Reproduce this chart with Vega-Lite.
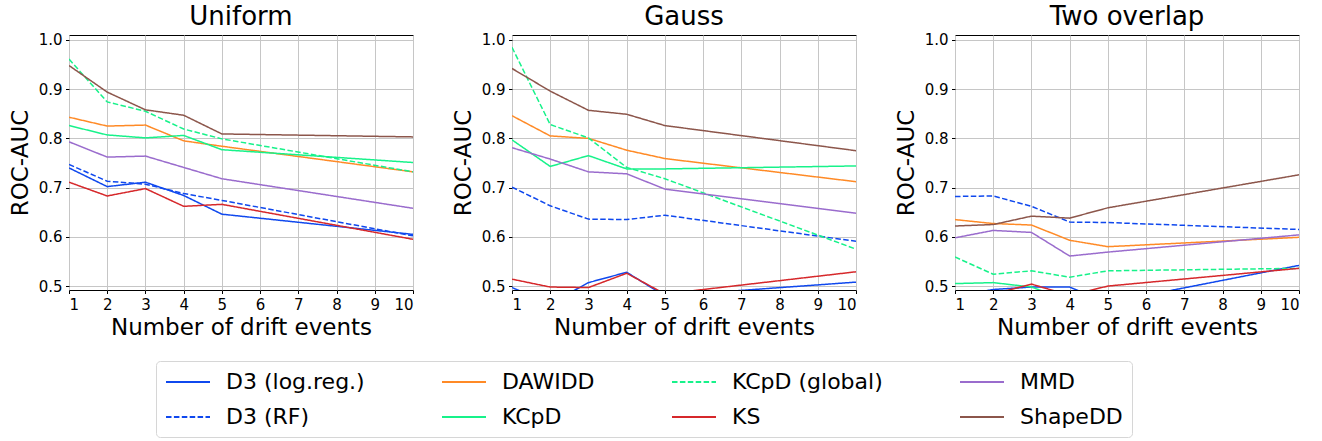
{
  "$schema": "https://vega.github.io/schema/vega-lite/v6.json",
  "padding": {"left": 8, "top": 3, "right": 0, "bottom": 0},
  "background": "white",
  "bounds": "flush",
  "spacing": 99,
  "data": {"values": [
    {"p":"Uniform","m":"D3 (log.reg.)","x":1,"y":0.740},{"p":"Uniform","m":"D3 (log.reg.)","x":2,"y":0.702},{"p":"Uniform","m":"D3 (log.reg.)","x":3,"y":0.711},{"p":"Uniform","m":"D3 (log.reg.)","x":4,"y":0.684},{"p":"Uniform","m":"D3 (log.reg.)","x":5,"y":0.646},{"p":"Uniform","m":"D3 (log.reg.)","x":10,"y":0.605},
    {"p":"Uniform","m":"D3 (RF)","x":1,"y":0.747},{"p":"Uniform","m":"D3 (RF)","x":2,"y":0.713},{"p":"Uniform","m":"D3 (RF)","x":3,"y":0.707},{"p":"Uniform","m":"D3 (RF)","x":4,"y":0.688},{"p":"Uniform","m":"D3 (RF)","x":5,"y":0.674},{"p":"Uniform","m":"D3 (RF)","x":10,"y":0.602},
    {"p":"Uniform","m":"DAWIDD","x":1,"y":0.843},{"p":"Uniform","m":"DAWIDD","x":2,"y":0.825},{"p":"Uniform","m":"DAWIDD","x":3,"y":0.827},{"p":"Uniform","m":"DAWIDD","x":4,"y":0.795},{"p":"Uniform","m":"DAWIDD","x":5,"y":0.784},{"p":"Uniform","m":"DAWIDD","x":10,"y":0.732},
    {"p":"Uniform","m":"KCpD","x":1,"y":0.826},{"p":"Uniform","m":"KCpD","x":2,"y":0.807},{"p":"Uniform","m":"KCpD","x":3,"y":0.801},{"p":"Uniform","m":"KCpD","x":4,"y":0.806},{"p":"Uniform","m":"KCpD","x":5,"y":0.777},{"p":"Uniform","m":"KCpD","x":10,"y":0.751},
    {"p":"Uniform","m":"KCpD (global)","x":1,"y":0.961},{"p":"Uniform","m":"KCpD (global)","x":2,"y":0.874},{"p":"Uniform","m":"KCpD (global)","x":3,"y":0.855},{"p":"Uniform","m":"KCpD (global)","x":4,"y":0.819},{"p":"Uniform","m":"KCpD (global)","x":5,"y":0.799},{"p":"Uniform","m":"KCpD (global)","x":10,"y":0.732},
    {"p":"Uniform","m":"KS","x":1,"y":0.711},{"p":"Uniform","m":"KS","x":2,"y":0.683},{"p":"Uniform","m":"KS","x":3,"y":0.698},{"p":"Uniform","m":"KS","x":4,"y":0.662},{"p":"Uniform","m":"KS","x":5,"y":0.666},{"p":"Uniform","m":"KS","x":10,"y":0.595},
    {"p":"Uniform","m":"MMD","x":1,"y":0.793},{"p":"Uniform","m":"MMD","x":2,"y":0.762},{"p":"Uniform","m":"MMD","x":3,"y":0.764},{"p":"Uniform","m":"MMD","x":4,"y":0.741},{"p":"Uniform","m":"MMD","x":5,"y":0.718},{"p":"Uniform","m":"MMD","x":10,"y":0.658},
    {"p":"Uniform","m":"ShapeDD","x":1,"y":0.948},{"p":"Uniform","m":"ShapeDD","x":2,"y":0.894},{"p":"Uniform","m":"ShapeDD","x":3,"y":0.858},{"p":"Uniform","m":"ShapeDD","x":4,"y":0.847},{"p":"Uniform","m":"ShapeDD","x":5,"y":0.809},{"p":"Uniform","m":"ShapeDD","x":10,"y":0.803},
    {"p":"Gauss","m":"D3 (log.reg.)","x":1,"y":0.497},{"p":"Gauss","m":"D3 (log.reg.)","x":2,"y":0.464},{"p":"Gauss","m":"D3 (log.reg.)","x":3,"y":0.507},{"p":"Gauss","m":"D3 (log.reg.)","x":4,"y":0.528},{"p":"Gauss","m":"D3 (log.reg.)","x":5,"y":0.480},{"p":"Gauss","m":"D3 (log.reg.)","x":10,"y":0.508},
    {"p":"Gauss","m":"D3 (RF)","x":1,"y":0.701},{"p":"Gauss","m":"D3 (RF)","x":2,"y":0.663},{"p":"Gauss","m":"D3 (RF)","x":3,"y":0.636},{"p":"Gauss","m":"D3 (RF)","x":4,"y":0.635},{"p":"Gauss","m":"D3 (RF)","x":5,"y":0.644},{"p":"Gauss","m":"D3 (RF)","x":10,"y":0.591},
    {"p":"Gauss","m":"DAWIDD","x":1,"y":0.846},{"p":"Gauss","m":"DAWIDD","x":2,"y":0.805},{"p":"Gauss","m":"DAWIDD","x":3,"y":0.800},{"p":"Gauss","m":"DAWIDD","x":4,"y":0.776},{"p":"Gauss","m":"DAWIDD","x":5,"y":0.759},{"p":"Gauss","m":"DAWIDD","x":10,"y":0.712},
    {"p":"Gauss","m":"KCpD","x":1,"y":0.797},{"p":"Gauss","m":"KCpD","x":2,"y":0.743},{"p":"Gauss","m":"KCpD","x":3,"y":0.765},{"p":"Gauss","m":"KCpD","x":4,"y":0.738},{"p":"Gauss","m":"KCpD","x":5,"y":0.738},{"p":"Gauss","m":"KCpD","x":10,"y":0.744},
    {"p":"Gauss","m":"KCpD (global)","x":1,"y":0.985},{"p":"Gauss","m":"KCpD (global)","x":2,"y":0.828},{"p":"Gauss","m":"KCpD (global)","x":3,"y":0.801},{"p":"Gauss","m":"KCpD (global)","x":4,"y":0.741},{"p":"Gauss","m":"KCpD (global)","x":5,"y":0.718},{"p":"Gauss","m":"KCpD (global)","x":10,"y":0.575},
    {"p":"Gauss","m":"KS","x":1,"y":0.514},{"p":"Gauss","m":"KS","x":2,"y":0.498},{"p":"Gauss","m":"KS","x":3,"y":0.497},{"p":"Gauss","m":"KS","x":4,"y":0.526},{"p":"Gauss","m":"KS","x":5,"y":0.484},{"p":"Gauss","m":"KS","x":10,"y":0.529},
    {"p":"Gauss","m":"MMD","x":1,"y":0.781},{"p":"Gauss","m":"MMD","x":2,"y":0.758},{"p":"Gauss","m":"MMD","x":3,"y":0.732},{"p":"Gauss","m":"MMD","x":4,"y":0.728},{"p":"Gauss","m":"MMD","x":5,"y":0.697},{"p":"Gauss","m":"MMD","x":10,"y":0.648},
    {"p":"Gauss","m":"ShapeDD","x":1,"y":0.942},{"p":"Gauss","m":"ShapeDD","x":2,"y":0.896},{"p":"Gauss","m":"ShapeDD","x":3,"y":0.857},{"p":"Gauss","m":"ShapeDD","x":4,"y":0.849},{"p":"Gauss","m":"ShapeDD","x":5,"y":0.826},{"p":"Gauss","m":"ShapeDD","x":10,"y":0.775},
    {"p":"Two overlap","m":"D3 (log.reg.)","x":1,"y":0.480},{"p":"Two overlap","m":"D3 (log.reg.)","x":2,"y":0.493},{"p":"Two overlap","m":"D3 (log.reg.)","x":3,"y":0.498},{"p":"Two overlap","m":"D3 (log.reg.)","x":4,"y":0.498},{"p":"Two overlap","m":"D3 (log.reg.)","x":5,"y":0.466},{"p":"Two overlap","m":"D3 (log.reg.)","x":10,"y":0.542},
    {"p":"Two overlap","m":"D3 (RF)","x":1,"y":0.682},{"p":"Two overlap","m":"D3 (RF)","x":2,"y":0.683},{"p":"Two overlap","m":"D3 (RF)","x":3,"y":0.662},{"p":"Two overlap","m":"D3 (RF)","x":4,"y":0.630},{"p":"Two overlap","m":"D3 (RF)","x":5,"y":0.629},{"p":"Two overlap","m":"D3 (RF)","x":10,"y":0.615},
    {"p":"Two overlap","m":"DAWIDD","x":1,"y":0.635},{"p":"Two overlap","m":"DAWIDD","x":2,"y":0.627},{"p":"Two overlap","m":"DAWIDD","x":3,"y":0.624},{"p":"Two overlap","m":"DAWIDD","x":4,"y":0.593},{"p":"Two overlap","m":"DAWIDD","x":5,"y":0.580},{"p":"Two overlap","m":"DAWIDD","x":10,"y":0.599},
    {"p":"Two overlap","m":"KCpD","x":1,"y":0.505},{"p":"Two overlap","m":"KCpD","x":2,"y":0.507},{"p":"Two overlap","m":"KCpD","x":3,"y":0.498},{"p":"Two overlap","m":"KCpD","x":4,"y":0.470},{"p":"Two overlap","m":"KCpD","x":5,"y":0.465},{"p":"Two overlap","m":"KCpD","x":10,"y":0.470},
    {"p":"Two overlap","m":"KCpD (global)","x":1,"y":0.559},{"p":"Two overlap","m":"KCpD (global)","x":2,"y":0.524},{"p":"Two overlap","m":"KCpD (global)","x":3,"y":0.531},{"p":"Two overlap","m":"KCpD (global)","x":4,"y":0.518},{"p":"Two overlap","m":"KCpD (global)","x":5,"y":0.531},{"p":"Two overlap","m":"KCpD (global)","x":10,"y":0.536},
    {"p":"Two overlap","m":"KS","x":1,"y":0.470},{"p":"Two overlap","m":"KS","x":2,"y":0.484},{"p":"Two overlap","m":"KS","x":3,"y":0.504},{"p":"Two overlap","m":"KS","x":4,"y":0.481},{"p":"Two overlap","m":"KS","x":5,"y":0.500},{"p":"Two overlap","m":"KS","x":10,"y":0.536},
    {"p":"Two overlap","m":"MMD","x":1,"y":0.598},{"p":"Two overlap","m":"MMD","x":2,"y":0.613},{"p":"Two overlap","m":"MMD","x":3,"y":0.609},{"p":"Two overlap","m":"MMD","x":4,"y":0.561},{"p":"Two overlap","m":"MMD","x":5,"y":0.569},{"p":"Two overlap","m":"MMD","x":10,"y":0.604},
    {"p":"Two overlap","m":"ShapeDD","x":1,"y":0.622},{"p":"Two overlap","m":"ShapeDD","x":2,"y":0.625},{"p":"Two overlap","m":"ShapeDD","x":3,"y":0.642},{"p":"Two overlap","m":"ShapeDD","x":4,"y":0.638},{"p":"Two overlap","m":"ShapeDD","x":5,"y":0.659},{"p":"Two overlap","m":"ShapeDD","x":10,"y":0.726}
  ]},
  "hconcat": [
    {"title": "Uniform", "transform": [{"filter": {"field": "p", "equal": "Uniform"}}],
     "width": 344, "height": 255, "mark": {"type": "line", "clip": true, "strokeWidth": 1.5},
     "encoding": {
      "x": {"field": "x", "type": "quantitative", "scale": {"domain": [1, 10], "nice": false, "zero": false},
        "axis": {"values": [1,2,3,4,5,6,7,8,9,10], "format": "d", "title": "Number of drift events", "titlePadding": 4}},
      "y": {"field": "y", "type": "quantitative", "scale": {"domain": [0.492, 1.01], "nice": false, "zero": false},
        "axis": {"values": [0.5,0.6,0.7,0.8,0.9,1.0], "format": ".1f", "title": "ROC-AUC", "titlePadding": 6}},
      "color": {"field": "m", "type": "nominal",
        "scale": {"domain": ["D3 (log.reg.)", "D3 (RF)", "DAWIDD", "KCpD", "KCpD (global)", "KS", "MMD", "ShapeDD"],
                  "range": ["#0f48ee", "#0f48ee", "#ff8a26", "#17f28a", "#17f28a", "#d6282b", "#9a6ccd", "#8c564b"]}},
      "strokeDash": {"field": "m", "type": "nominal",
        "scale": {"domain": ["D3 (log.reg.)", "D3 (RF)", "DAWIDD", "KCpD", "KCpD (global)", "KS", "MMD", "ShapeDD"],
                  "range": [[1,0], [5.5,2.4], [1,0], [1,0], [5.5,2.4], [1,0], [1,0], [1,0]]}}
     }},
    {"title": "Gauss", "transform": [{"filter": {"field": "p", "equal": "Gauss"}}],
     "width": 344, "height": 255, "mark": {"type": "line", "clip": true, "strokeWidth": 1.5},
     "encoding": {
      "x": {"field": "x", "type": "quantitative", "scale": {"domain": [1, 10], "nice": false, "zero": false},
        "axis": {"values": [1,2,3,4,5,6,7,8,9,10], "format": "d", "title": "Number of drift events", "titlePadding": 4}},
      "y": {"field": "y", "type": "quantitative", "scale": {"domain": [0.492, 1.01], "nice": false, "zero": false},
        "axis": {"values": [0.5,0.6,0.7,0.8,0.9,1.0], "format": ".1f", "title": "ROC-AUC", "titlePadding": 6}},
      "color": {"field": "m", "type": "nominal",
        "scale": {"domain": ["D3 (log.reg.)", "D3 (RF)", "DAWIDD", "KCpD", "KCpD (global)", "KS", "MMD", "ShapeDD"],
                  "range": ["#0f48ee", "#0f48ee", "#ff8a26", "#17f28a", "#17f28a", "#d6282b", "#9a6ccd", "#8c564b"]}},
      "strokeDash": {"field": "m", "type": "nominal",
        "scale": {"domain": ["D3 (log.reg.)", "D3 (RF)", "DAWIDD", "KCpD", "KCpD (global)", "KS", "MMD", "ShapeDD"],
                  "range": [[1,0], [5.5,2.4], [1,0], [1,0], [5.5,2.4], [1,0], [1,0], [1,0]]}}
     }},
    {"title": "Two overlap", "transform": [{"filter": {"field": "p", "equal": "Two overlap"}}],
     "width": 344, "height": 255, "mark": {"type": "line", "clip": true, "strokeWidth": 1.5},
     "encoding": {
      "x": {"field": "x", "type": "quantitative", "scale": {"domain": [1, 10], "nice": false, "zero": false},
        "axis": {"values": [1,2,3,4,5,6,7,8,9,10], "format": "d", "title": "Number of drift events", "titlePadding": 4}},
      "y": {"field": "y", "type": "quantitative", "scale": {"domain": [0.492, 1.01], "nice": false, "zero": false},
        "axis": {"values": [0.5,0.6,0.7,0.8,0.9,1.0], "format": ".1f", "title": "ROC-AUC", "titlePadding": 6}},
      "color": {"field": "m", "type": "nominal",
        "scale": {"domain": ["D3 (log.reg.)", "D3 (RF)", "DAWIDD", "KCpD", "KCpD (global)", "KS", "MMD", "ShapeDD"],
                  "range": ["#0f48ee", "#0f48ee", "#ff8a26", "#17f28a", "#17f28a", "#d6282b", "#9a6ccd", "#8c564b"]}},
      "strokeDash": {"field": "m", "type": "nominal",
        "scale": {"domain": ["D3 (log.reg.)", "D3 (RF)", "DAWIDD", "KCpD", "KCpD (global)", "KS", "MMD", "ShapeDD"],
                  "range": [[1,0], [5.5,2.4], [1,0], [1,0], [5.5,2.4], [1,0], [1,0], [1,0]]}}
     }}
  ],
  "config": {
    "view": {"stroke": "black", "strokeWidth": 1},
    "title": {"fontSize": 26, "font": "DejaVu Sans", "fontWeight": "normal", "color": "black", "offset": 3, "anchor": "middle"},
    "axis": {"labelFont": "DejaVu Sans", "labelFontSize": 15, "labelColor": "black", "tickColor": "black", "tickSize": 3.5, "labelPadding": 3.5,
      "domain": false, "gridColor": "#c6c6c6", "gridWidth": 1, "titleFont": "DejaVu Sans", "titleFontSize": 23, "titleFontWeight": "normal", "titleColor": "black"},
    "legend": {"orient": "none", "legendX": 87, "legendY": 326, "columns": 4, "title": null, "labelFont": "DejaVu Sans", "labelFontSize": 22, "labelColor": "black",
      "symbolType": "M-1,0H3", "symbolSize": 484, "symbolStrokeWidth": 1.8, "labelOffset": 37, "columnPadding": 73, "rowPadding": 12, "padding": 9,
      "strokeColor": "#d6d6d6", "fillColor": "white", "cornerRadius": 4, "labelLimit": 400}
  }
}
